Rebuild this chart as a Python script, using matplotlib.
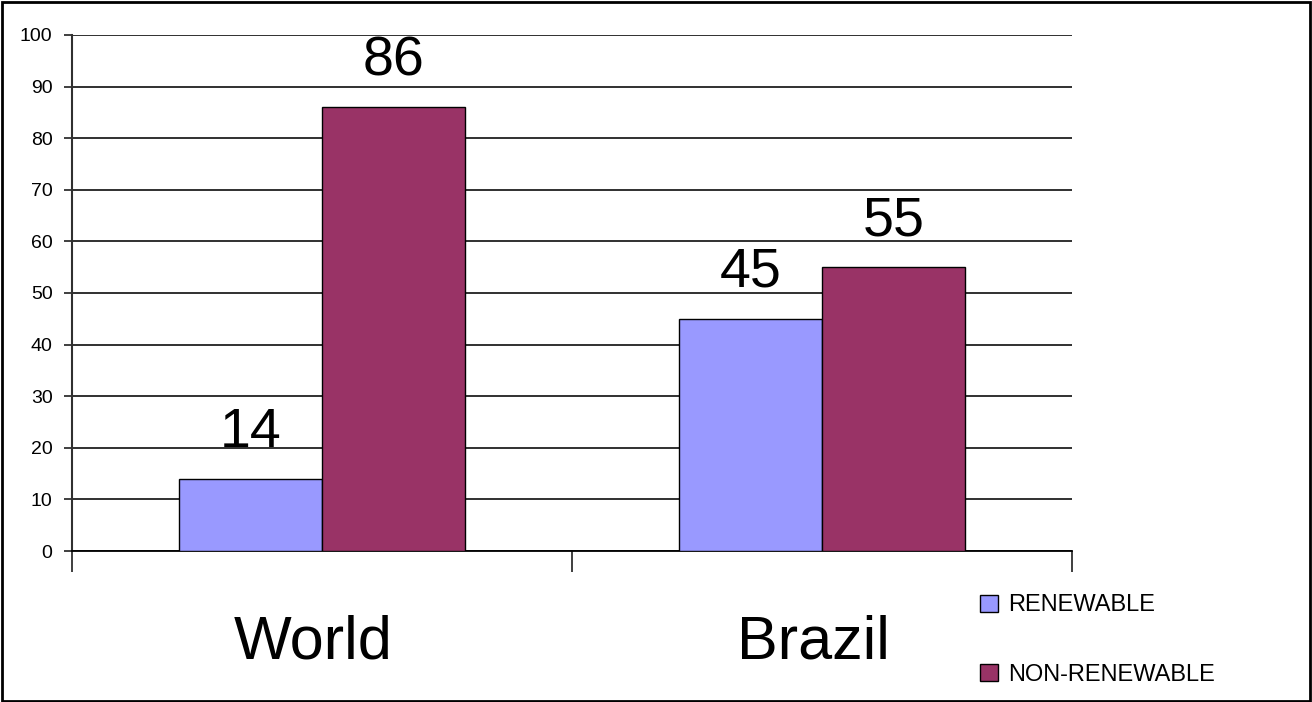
import matplotlib
matplotlib.use("Agg")
import matplotlib.pyplot as plt
from matplotlib.patches import Rectangle
import matplotlib.transforms as mtransforms
import numpy as np

categories = ["World", "Brazil"]
series_names = ["RENEWABLE", "NON-RENEWABLE"]
renewable = [14, 45]
non_renewable = [86, 55]
colors = ["#9999FF", "#993366"]
y_ticks = [0, 10, 20, 30, 40, 50, 60, 70, 80, 90, 100]

plt.rcParams['font.family'] = ['Liberation Sans', 'DejaVu Sans']

fig = plt.figure(figsize=(13.12, 7.02), dpi=100)
fig.patch.set_facecolor("white")
ax = fig.add_axes([72/1312, (702-551)/702, 1000/1312, 516/702])

x = np.arange(len(categories))
w = 0.286
b1 = ax.bar(x - w/2, renewable, w, color=colors[0], edgecolor="black", linewidth=1.0, label=series_names[0], zorder=3)
b2 = ax.bar(x + w/2, non_renewable, w, color=colors[1], edgecolor="black", linewidth=1.0, label=series_names[1], zorder=3)

for bars, vals in ((b1, renewable), (b2, non_renewable)):
    for r, v in zip(bars, vals):
        ax.annotate(str(v), (r.get_x() + r.get_width()/2, v), xytext=(0, 23),
                    textcoords="offset points", ha="center", va="baseline",
                    fontsize=40, color="black")

ax.set_xlim(-0.5, len(categories) - 0.5)
ax.set_ylim(0, 100)
ax.set_yticks(y_ticks)
ax.set_yticklabels([str(t) for t in y_ticks], fontsize=14)
ax.yaxis.grid(True, color="#202020", linewidth=1.3, zorder=0)
ax.set_axisbelow(True)

ax.set_xticks(x)
ax.set_xticklabels(categories, fontsize=44)
ax.tick_params(axis="x", which="major", length=0, pad=46)
shift = mtransforms.ScaledTranslation(-9/100, 0, fig.dpi_scale_trans)
for lab in ax.get_xticklabels():
    lab.set_transform(lab.get_transform() + shift)
ax.set_xticks(np.arange(-0.5, len(categories), 1.0), minor=True)
ax.tick_params(axis="x", which="minor", length=15, width=1.3, color="#303030", direction="out")
ax.tick_params(axis="y", length=6, width=1.3, color="#303030", pad=8)

for s in ("top", "right"):
    ax.spines[s].set_visible(False)
ax.spines["left"].set_color("#303030")
ax.spines["left"].set_linewidth(1.5)
ax.spines["bottom"].set_color("black")
ax.spines["bottom"].set_linewidth(1.3)

handles = [Rectangle((0, 0), 1, 1, facecolor=c, edgecolor="black", linewidth=1.0) for c in colors]
leg = fig.legend(handles, series_names, loc="center left",
                 bbox_to_anchor=(959/1312, 1 - 640/702), frameon=False,
                 fontsize=17, handlelength=0.75, handleheight=0.75,
                 handletextpad=0.45, labelspacing=2.0)

fig.add_artist(Rectangle((0.0015, 0.002), 0.997, 0.995, transform=fig.transFigure,
                         fill=False, edgecolor="black", linewidth=2))

fig.savefig("out.png", dpi=100, facecolor="white")
